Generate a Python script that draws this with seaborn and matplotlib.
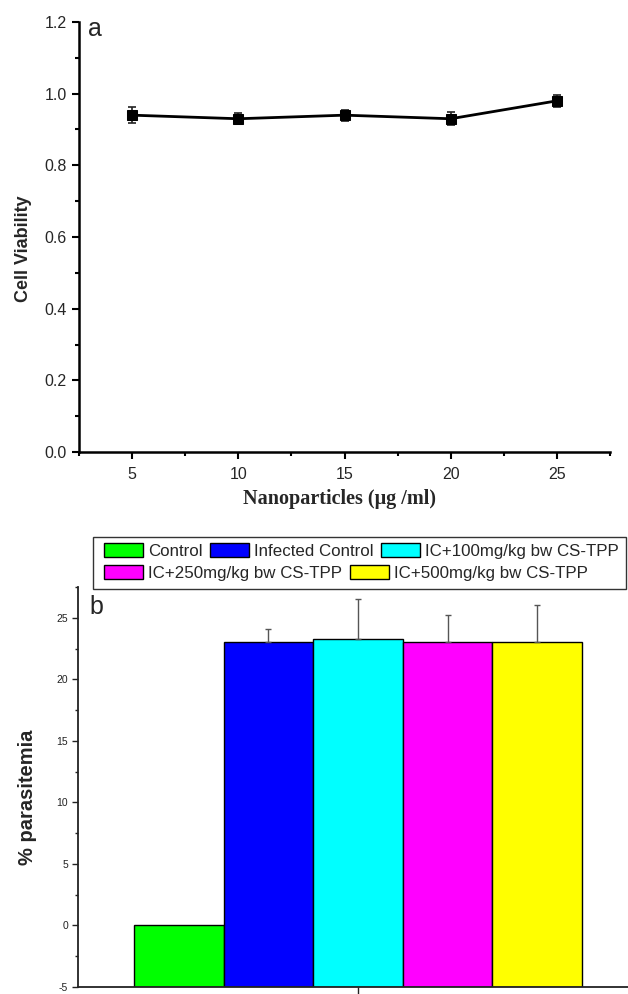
import numpy as np
import pandas as pd
import matplotlib
matplotlib.use("Agg")
import matplotlib.pyplot as plt
import seaborn as sns
from matplotlib.patches import Patch, Rectangle
from matplotlib.ticker import MultipleLocator, FormatStrFormatter, FixedLocator

# ---- data: panel a ----
conc = [5, 10, 15, 20, 25]
viability = [0.94, 0.93, 0.94, 0.93, 0.98]
viability_err = [0.022, 0.015, 0.015, 0.018, 0.016]

# ---- data: panel b ----
groups = ["Control", "Infected Control", "IC+100mg/kg bw CS-TPP",
          "IC+250mg/kg bw CS-TPP", "IC+500mg/kg bw CS-TPP"]
parasitemia = [0.0, 23.0, 23.3, 23.0, 23.0]
parasitemia_err = [0.0, 1.1, 3.2, 2.2, 3.0]
colors = ["#00ff00", "#0000ff", "#00ffff", "#ff00ff", "#ffff00"]

sns.set_theme(style="ticks")
plt.rcParams['font.family'] = ['Liberation Sans', 'DejaVu Sans']
plt.rcParams['axes.unicode_minus'] = False

W, H = 628, 994
fig = plt.figure(figsize=(W / 100, H / 100), dpi=100)
ax1 = fig.add_axes([79 / W, 1 - 452 / H, (610 - 79) / W, (452 - 22) / H])
ax2 = fig.add_axes([78 / W, 1 - 987 / H, (638 - 78) / W, (987 - 587) / H])

# ---------------- panel a ----------------
df1 = pd.DataFrame({"conc": conc, "viab": viability})
sns.lineplot(data=df1, x="conc", y="viab", ax=ax1, color="black", lw=2,
             marker="s", markersize=7.5, markeredgecolor="black", zorder=3)
ax1.errorbar(conc, viability, yerr=viability_err, fmt="none", ecolor="#222222",
             elinewidth=1.2, capsize=3.2, capthick=1.2, zorder=2)
ax1.set_xlim(2.5, 27.5)
ax1.set_ylim(0, 1.2)
ax1.xaxis.set_major_locator(FixedLocator(conc))
ax1.xaxis.set_minor_locator(FixedLocator([2.5, 7.5, 12.5, 17.5, 22.5, 27.5]))
ax1.yaxis.set_major_locator(MultipleLocator(0.2))
ax1.yaxis.set_minor_locator(MultipleLocator(0.1))
ax1.yaxis.set_major_formatter(FormatStrFormatter("%.1f"))
for s in ["top", "right"]:
    ax1.spines[s].set_visible(False)
for s in ["left", "bottom"]:
    ax1.spines[s].set_linewidth(1.8)
    ax1.spines[s].set_color("black")
ax1.tick_params(which="major", length=5, width=1.5, labelsize=11.5, pad=4, color="black")
ax1.tick_params(which="minor", length=3, width=1.5, color="black")
ax1.tick_params(axis="x", which="major", pad=6)
ax1.set_ylabel("Cell Viability", fontsize=13, fontweight="bold")
ax1.yaxis.set_label_coords(-0.088, 0.472)
ax1.set_xlabel("Nanoparticles (\u03bcg /ml)", fontsize=14.5, fontweight="bold",
               family=["Liberation Serif", "DejaVu Serif"])
ax1.xaxis.set_label_coords(0.49, -0.086)

# ---------------- panel b ----------------
df2 = pd.DataFrame({"grp": [""] * len(groups), "treat": groups, "val": parasitemia})
sns.barplot(data=df2, x="grp", y="val", hue="treat", hue_order=groups,
            palette=colors, ax=ax2, errorbar=None, edgecolor="black",
            linewidth=1, saturation=1, legend=False, width=0.8)
base = -5
bars = sorted(ax2.patches, key=lambda p: p.get_x())
for p in bars:
    top = p.get_y() + p.get_height()
    p.set_y(base)
    p.set_height(top - base)
xs = [p.get_x() + p.get_width() / 2 for p in bars]
ex = [x for x, e in zip(xs, parasitemia_err) if e > 0]
ey = [v for v, e in zip(parasitemia, parasitemia_err) if e > 0]
ee = [e for e in parasitemia_err if e > 0]
ax2.errorbar(ex, ey, yerr=[[0] * len(ee), ee], fmt="none", ecolor="#555555",
             elinewidth=1, capsize=2, capthick=1, zorder=1)
ax2.set_ylim(-5, 27.5)
ax2.set_xlim(-0.5, 0.5)
ax2.set_xticks([0])
ax2.set_xticklabels([""])
ax2.set_xlabel("")
ax2.yaxis.set_major_locator(MultipleLocator(5))
ax2.yaxis.set_minor_locator(MultipleLocator(2.5))
for s in ["top", "right"]:
    ax2.spines[s].set_visible(False)
for s in ["left", "bottom"]:
    ax2.spines[s].set_linewidth(1.3)
    ax2.spines[s].set_color("#222222")
ax2.tick_params(which="major", length=4, width=1, labelsize=7.5, pad=3,
                color="#222222", labelcolor="#222222")
ax2.tick_params(which="minor", length=2.5, width=1, color="#222222")
ax2.tick_params(axis="x", which="major", length=6)
ax2.set_ylabel("% parasitemia", fontsize=14.5, fontweight="bold")
ax2.yaxis.set_label_coords(-0.073, 0.473)

# legend (two rows, framed)
handles = [Patch(facecolor=c, edgecolor="black", linewidth=1) for c in colors]
common = dict(frameon=False, fontsize=12.2, handlelength=2.3, handleheight=0.85,
              handletextpad=0.3, columnspacing=0.45, borderpad=0, borderaxespad=0,
              loc="upper left")
fig.legend(handles[:3], groups[:3], ncol=3, bbox_to_anchor=(104 / W, 1 - 543 / H), **common)
fig.legend(handles[3:], groups[3:], ncol=2, bbox_to_anchor=(104 / W, 1 - 565 / H), **common)
fig.patches.append(Rectangle((93 / W, 1 - 589 / H), (626 - 93) / W, (589 - 537) / H,
                             transform=fig.transFigure, fill=False,
                             edgecolor="#333333", linewidth=1))

fig.text(88 / W, 1 - 36 / H, "a", fontsize=18)
fig.text(89 / W, 1 - 614 / H, "b", fontsize=18)

fig.savefig("out.png", dpi=100)
